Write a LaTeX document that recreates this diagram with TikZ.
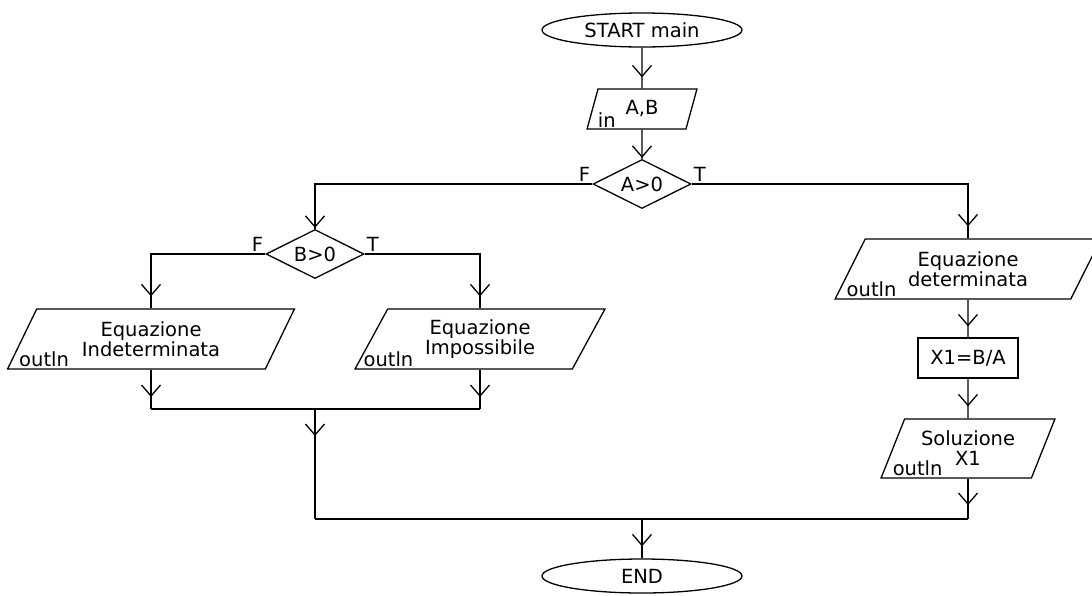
\documentclass[tikz,border=0pt]{standalone}
\usepackage{fontspec}
\setmainfont{DejaVu Sans}
\usetikzlibrary{shapes.geometric,arrows.meta,decorations.markings}

\tikzset{
  flowtip/.tip={Straight Barb[length=11pt,width=19pt]},
  flow/.style={postaction={decorate},
    decoration={markings, mark=at position #1 with {\arrow{flowtip}}}},
  flow/.default=-12pt,
  terminal/.style={draw, ellipse, minimum width=200pt, minimum height=34pt, inner sep=0pt},
  io/.style={draw, trapezium, trapezium left angle=63.4, trapezium right angle=116.6,
    trapezium stretches=true, minimum height=60pt, align=center, inner sep=0pt},
  decision/.style={draw, diamond, shape aspect=2, minimum width=98pt, minimum height=49pt, inner sep=0pt},
  process/.style={draw, rectangle, minimum width=100pt, minimum height=40pt, inner sep=0pt},
  tag/.style={anchor=base west, inner sep=0pt},
  branch/.style={inner sep=1.5pt},
}

\begin{document}
\begin{tikzpicture}[x=1pt,y=-1pt,line width=1.3pt]
{\fontsize{19.5}{20}\selectfont
\useasboundingbox (0,0) rectangle (1092,595);

% Start and input
\node[terminal] (start) at (642,30) {START main};%
\node[io, trapezium left angle=76, trapezium right angle=104,
  minimum width=110pt, minimum height=40pt] (inAB) at (642,109) {A,B};%
\node[tag] (inAB-tag) at ([shift={(11,-2)}]inAB.bottom left corner) {in};%

% Decision A>0
\node[decision] (a0) at (642,184) {A>0};%
\node[branch, anchor=south east] (a0-F) at (a0.west) {F};%
\node[branch, anchor=south west] (a0-T) at (a0.east) {T};%

% Decision B>0
\node[decision] (b0) at (315,254) {B>0};%
\node[branch, anchor=south east] (b0-F) at (b0.west) {F};%
\node[branch, anchor=south west] (b0-T) at (b0.east) {T};%

% Outputs of the B>0 branches
\node[io, minimum width=287pt] (ind) at (151,339) {Equazione\\Indeterminata};%
\node[tag] (ind-tag) at ([shift={(12,-3)}]ind.bottom left corner) {outln};%
\node[io, minimum width=250pt] (imp) at (480,339) {Equazione\\Impossibile};%
\node[tag] (imp-tag) at ([shift={(9,-3)}]imp.bottom left corner) {outln};%

% Right column
\node[io, minimum width=266pt] (det) at (968,269) {Equazione\\determinata};%
\node[tag] (det-tag) at ([shift={(12,-3)}]det.bottom left corner) {outln};%
\node[process] (calc) at (968,358) {X1=B/A};%
\node[io, minimum width=174pt, minimum height=59pt] (sol) at (968,448.5) {Soluzione\\X1};%
\node[tag] (sol-tag) at ([shift={(12,-3)}]sol.bottom left corner) {outln};%

% End
\node[terminal] (stop) at (642,576) {END};%

% Join points
\coordinate (joinB) at (315,409);%
\coordinate (joinA) at (642,519);%

% Drawing segments start -- A>0
\draw[flow=-11pt] (start.south) -- (inAB.north);%
\draw[flow=-1pt] (inAB.south) -- (a0.north);%

% Drawing branches of A>0
\draw[flow=-1pt] (a0.west) -| (b0.north);%
\draw[flow] (a0.east) -| (det.north);%

% Drawing branches of B>0
\draw[flow] (b0.west) -| (ind.north);%
\draw[flow] (b0.east) -| (imp.north);%
\draw[flow] (ind.south) -- (ind.south |- joinB);%
\draw[flow] (imp.south) -- (imp.south |- joinB);%
\draw (ind.south |- joinB) -- (imp.south |- joinB);%
\draw[flow=27pt] (joinB) -- (joinB |- joinA);%

% Drawing right column
\draw[flow=-11pt] (det.south) -- (calc.north);%
\draw[flow] (calc.south) -- (sol.north);%
\draw[flow=-14pt] (sol.south) -- (sol.south |- joinA);%

% Drawing final join
\draw (joinB |- joinA) -- (sol.south |- joinA);%
\draw[flow] (joinA) -- (stop.north);%
}
\end{tikzpicture}
\end{document}
